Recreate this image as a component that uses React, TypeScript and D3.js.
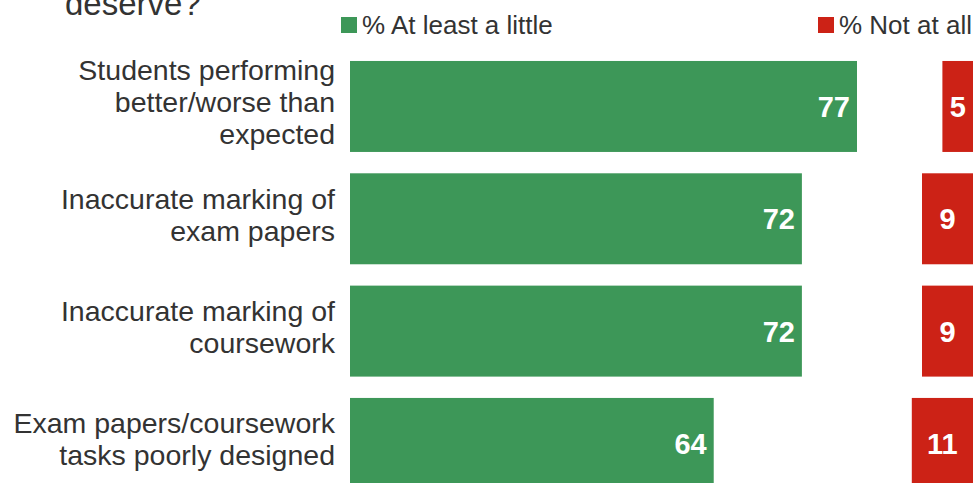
import React from "react";
import * as d3 from "d3";

const categories: string[][] = [
  ["Students performing", "better/worse than", "expected"],
  ["Inaccurate marking of", "exam papers"],
  ["Inaccurate marking of", "coursework"],
  ["Exam papers/coursework", "tasks poorly designed"],
];
const atLeastALittle = [77, 72, 72, 64];
const notAtAll = [5, 9, 9, 11];
const legendLabels = ["% At least a little", "% Not at all"];
const titleTail = "deserve?";

const W = 977;
const H = 483;
const GREEN = "#3d9758";
const RED = "#cc2216";
const TEXT = "#333333";
const FONT = "'Liberation Sans', Arial, Helvetica, sans-serif";

export default function App() {
  const keys = categories.map((_, i) => String(i));
  const y = d3
    .scaleBand<string>()
    .domain(keys)
    .range([50.3, 499.6])
    .paddingInner(0.19)
    .paddingOuter(0.095);

  const xG = d3.scaleLinear().domain([31, 77]).range([350, 857]);
  const xR = d3.scaleLinear().domain([-1, 11]).range([0, 61.2]);
  const redRight = 973;
  const lineH = 32;

  return (
    <svg
      width={W}
      height={H}
      style={{ position: "absolute", left: 0, top: 0, overflow: "hidden", background: "#fff" }}
      fontFamily={FONT}
    >
      <rect x={0} y={0} width={W} height={H} fill="#fff" />
      <text x={65} y={15} fontSize={33} fill={TEXT}>
        {titleTail}
      </text>

      {/* legend */}
      <rect x={341} y={17} width={16} height={16} fill={GREEN} />
      <text x={362} y={34} fontSize={26} fill={TEXT}>
        {legendLabels[0]}
      </text>
      <rect x={818} y={17} width={16} height={16} fill={RED} />
      <text x={839} y={34} fontSize={26} fill={TEXT}>
        {legendLabels[1]}
      </text>

      {categories.map((lines, i) => {
        const k = keys[i];
        const by = y(k)!;
        const bh = y.bandwidth();
        const cy = by + bh / 2 - 4;
        const n = lines.length;
        const firstBaseline = cy - ((n - 1) * lineH) / 2 + 10;
        const gEnd = xG(atLeastALittle[i]);
        const rW = xR(notAtAll[i]);
        return (
          <g key={k}>
            {lines.map((ln, j) => (
              <text
                key={j}
                x={335}
                y={firstBaseline + j * lineH}
                fontSize={28.5}
                fill={TEXT}
                textAnchor="end"
              >
                {ln}
              </text>
            ))}
            <rect x={xG(31)} y={by} width={gEnd - xG(31)} height={bh} fill={GREEN} />
            <text
              x={gEnd - 7}
              y={by + bh / 2 + 10.5}
              fontSize={29}
              fontWeight="bold"
              fill="#fff"
              textAnchor="end"
            >
              {atLeastALittle[i]}
            </text>
            <rect x={redRight - rW} y={by} width={rW} height={bh} fill={RED} />
            <text
              x={redRight - rW / 2}
              y={by + bh / 2 + 10.5}
              fontSize={29}
              fontWeight="bold"
              fill="#fff"
              textAnchor="middle"
            >
              {notAtAll[i]}
            </text>
          </g>
        );
      })}
    </svg>
  );
}
